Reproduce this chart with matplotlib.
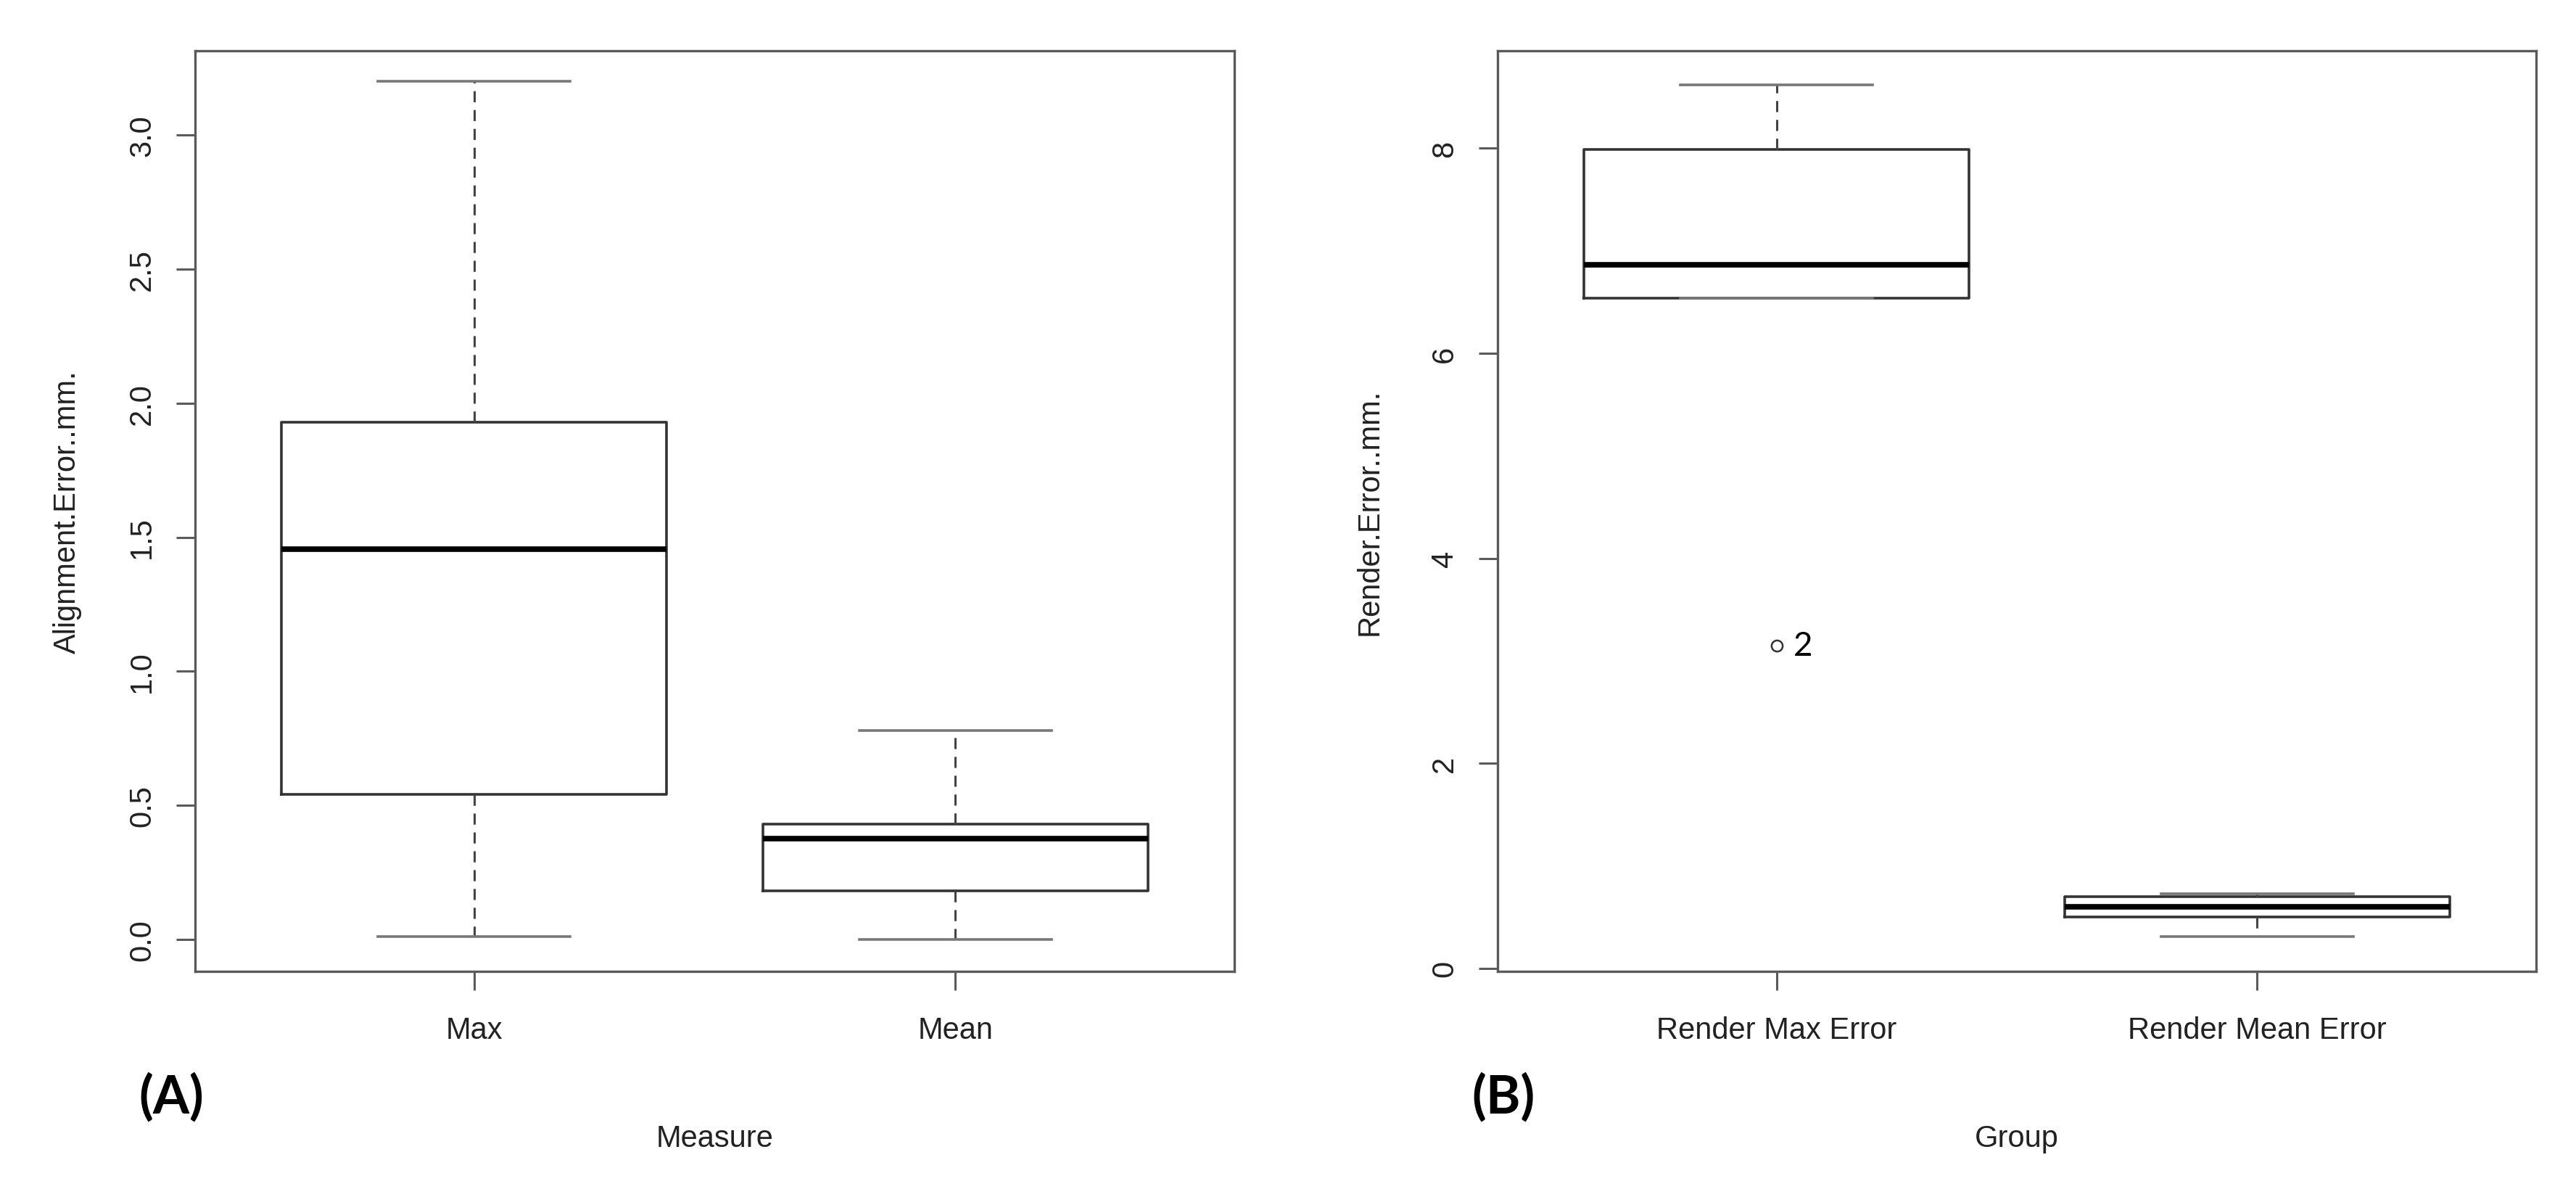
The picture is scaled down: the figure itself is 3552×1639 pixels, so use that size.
import numpy as np
import matplotlib.pyplot as plt

# panel A : alignment error (mm) by measure
mesures=['Max','Mean']
a_bas=[0.01,0.0]         # lower whisker ends
a_q1=[0.54,0.18]
a_med=[1.455,0.375]
a_q3=[1.93,0.43]
a_haut=[3.2,0.78]        # upper whisker ends
a_out=[[],[]]            # no outliers
a_yticks=[0.0,0.5,1.0,1.5,2.0,2.5,3.0]

# panel B : render error (mm) by group
groupes=['Render Max Error','Render Mean Error']
b_bas=[6.54,0.31]
b_q1=[6.54,0.50]
b_med=[6.86,0.60]
b_q3=[7.99,0.70]
b_haut=[8.62,0.73]
b_out=[[3.15],[]]        # point 2 is an outlier
b_out_lab='2'
b_yticks=[0,2,4,6,8]

plt.rcParams['font.family']=['Liberation Sans','DejaVu Sans']

gris='#5a5a5a'
texte='#222222'

def stats(labels,bas,q1,med,q3,haut,out):
    return [dict(label=l,whislo=w0,q1=a,med=m,q3=b,whishi=w1,fliers=f)
            for l,w0,a,m,b,w1,f in zip(labels,bas,q1,med,q3,haut,out)]

def panneau(ax,st,yticks,ylim,xlab,ylab,fmt):
    ax.bxp(st,positions=[1,2],widths=0.8,capwidths=0.4,
           boxprops=dict(color='#333333',lw=2.6),
           medianprops=dict(color='black',lw=5.5,solid_capstyle='butt'),
           whiskerprops=dict(color='#444444',lw=2.2,linestyle=(0,(5,3.5))),
           capprops=dict(color='#777777',lw=2.6),
           flierprops=dict(marker='o',mfc='none',mec='#333333',ms=11,mew=1.8))
    ax.set_xlim(0.42,2.58)
    ax.set_ylim(*ylim)
    ax.set_yticks(yticks)
    ax.set_yticklabels([fmt.format(v) for v in yticks])
    for s in ax.spines.values():
        s.set_color(gris)
        s.set_linewidth(2.4)
    ax.tick_params(axis='both',direction='out',length=19,width=2.2,color=gris,
                   labelsize=30,labelcolor=texte)
    ax.tick_params(axis='x',pad=25)
    ax.tick_params(axis='y',pad=19,labelrotation=90)
    for t in ax.get_yticklabels():
        t.set_va('center')
    ax.set_xlabel(xlab,fontsize=30,color=texte)
    ax.set_ylabel(ylab,fontsize=30,color=texte)
    ax.xaxis.set_label_coords(0.5,-0.1655)
    ax.yaxis.set_label_coords(-0.109,0.5)

fig=plt.figure(figsize=(35.52,16.4),dpi=100)
axA=fig.add_axes([0.0757,0.1829,0.4035,0.7738])
axB=fig.add_axes([0.5814,0.1829,0.4031,0.7738])

panneau(axA,stats(mesures,a_bas,a_q1,a_med,a_q3,a_haut,a_out),a_yticks,(-0.12,3.315),
        'Measure','Alignment.Error..mm.','{:.1f}')
panneau(axB,stats(groupes,b_bas,b_q1,b_med,b_q3,b_haut,b_out),b_yticks,(-0.03,8.95),
        'Group','Render.Error..mm.','{:d}')

# label of the outlier
axB.annotate(b_out_lab,(1,b_out[0][0]),xytext=(17,0),textcoords='offset points',
             ha='left',va='center',fontsize=33,color='black',family=['Lato','DejaVu Sans'])

# panel letters
fig.text(0.0664,0.0774,'(A)',fontsize=52,fontweight='bold',family=['Lato','DejaVu Sans'],ha='center',va='center')
fig.text(0.5836,0.0774,'(B)',fontsize=52,fontweight='bold',family=['Lato','DejaVu Sans'],ha='center',va='center')

fig.savefig('out.png',dpi=100,facecolor='white')
